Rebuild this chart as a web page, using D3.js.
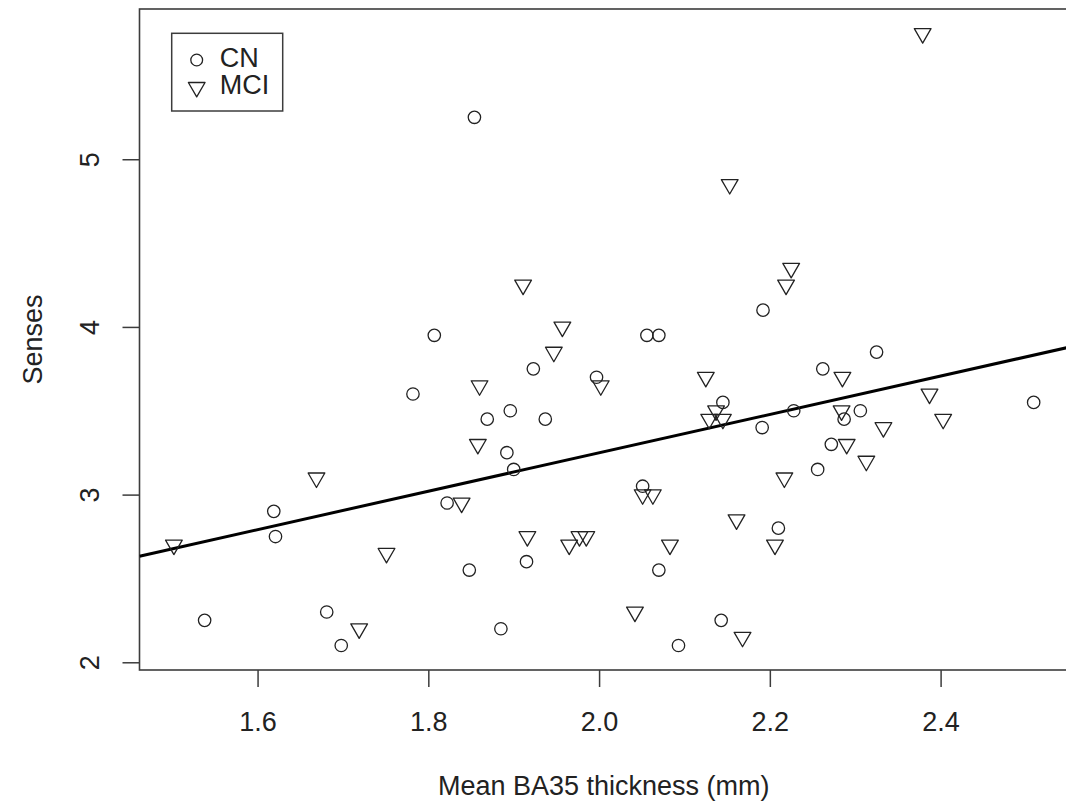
<!DOCTYPE html>
<html>
<head>
<meta charset="utf-8">
<script src="https://cdn.jsdelivr.net/npm/d3@7"></script>
<style>
  html, body { margin: 0; padding: 0; background: #fff; }
  svg { display: block; font-family: "Liberation Sans", Arial, sans-serif; }
</style>
</head>
<body>
<svg id="chart" width="1066" height="805"></svg>
<script>
// values
const cnThickness = [1.538, 1.619, 1.621, 1.681, 1.698, 1.782, 1.807, 1.822, 1.848, 1.854,
  1.869, 1.885, 1.892, 1.896, 1.900, 1.915, 1.923, 1.937, 1.997, 2.051,
  2.056, 2.070, 2.070, 2.093, 2.143, 2.145, 2.191, 2.192, 2.210, 2.228,
  2.256, 2.262, 2.272, 2.287, 2.306, 2.325, 2.509];
const cnSenses = [2.25, 2.90, 2.75, 2.30, 2.10, 3.60, 3.95, 2.95, 2.55, 5.25,
  3.45, 2.20, 3.25, 3.50, 3.15, 2.60, 3.75, 3.45, 3.70, 3.05,
  3.95, 3.95, 2.55, 2.10, 2.25, 3.55, 3.40, 4.10, 2.80, 3.50,
  3.15, 3.75, 3.30, 3.45, 3.50, 3.85, 3.55];
const mciThickness = [1.502, 1.669, 1.719, 1.751, 1.839, 1.858, 1.860, 1.911, 1.916, 1.947,
  1.957, 1.965, 1.977, 1.985, 2.002, 2.042, 2.051, 2.063, 2.083, 2.125,
  2.129, 2.137, 2.145, 2.153, 2.161, 2.168, 2.206, 2.217, 2.219, 2.225,
  2.284, 2.285, 2.290, 2.313, 2.333, 2.379, 2.387, 2.403];
const mciSenses = [2.70, 3.10, 2.20, 2.65, 2.95, 3.30, 3.65, 4.25, 2.75, 3.85,
  4.00, 2.70, 2.75, 2.75, 3.65, 2.30, 3.00, 3.00, 2.70, 3.70,
  3.45, 3.50, 3.45, 4.85, 2.85, 2.15, 2.70, 3.10, 4.25, 4.35,
  3.50, 3.70, 3.30, 3.20, 3.40, 5.75, 3.60, 3.45];
const groups = ['CN', 'MCI'];
const xTicks = [1.6, 1.8, 2.0, 2.2, 2.4];
const yTicks = [2, 3, 4, 5];
const fitIntercept = 0.959;
const fitSlope = 1.145;

const svg = d3.select('#chart');
const plotLeft = 139.5, plotTop = 9, plotBottom = 670;
const ink = '#222';

// R style limits: data range padded by 4% on each side
const pad = ext => { const r = ext[1] - ext[0]; return [ext[0] - 0.04 * r, ext[1] + 0.04 * r]; };
const xDom = pad(d3.extent(cnThickness.concat(mciThickness)));
const yDom = pad(d3.extent(cnSenses.concat(mciSenses)));
const pxPerMm = 853.8;

const x = d3.scaleLinear().domain(xDom).range([plotLeft, plotLeft + (xDom[1] - xDom[0]) * pxPerMm]);
const y = d3.scaleLinear().domain(yDom).range([plotBottom, plotTop]);
const plotRight = x.range()[1];

svg.append('clipPath').attr('id', 'plotClip')
  .append('rect').attr('x', plotLeft).attr('y', plotTop)
  .attr('width', plotRight - plotLeft).attr('height', plotBottom - plotTop);

// axes
const xAxis = svg.append('g')
  .attr('transform', `translate(0,${plotBottom})`)
  .call(d3.axisBottom(x).tickValues(xTicks).tickSize(17).tickFormat(d3.format('.1f')));
xAxis.select('.domain').remove();
xAxis.selectAll('line').attr('stroke', '#3c3c3c').attr('stroke-width', 1.5);
xAxis.selectAll('text')
  .attr('y', 61).attr('dy', null)
  .attr('fill', ink).style('font-size', '27px');

const yAxis = svg.append('g')
  .attr('transform', `translate(${plotLeft},0)`)
  .call(d3.axisLeft(y).tickValues(yTicks).tickSize(17).tickFormat(d3.format('d')));
yAxis.select('.domain').remove();
yAxis.selectAll('line').attr('stroke', '#3c3c3c').attr('stroke-width', 1.5);
yAxis.selectAll('text')
  .attr('x', null).attr('dy', null)
  .attr('text-anchor', 'middle')
  .attr('transform', 'translate(-40.5,0) rotate(-90)')
  .attr('fill', ink).style('font-size', '27px');

// frame
svg.append('rect')
  .attr('x', plotLeft).attr('y', plotTop)
  .attr('width', plotRight - plotLeft).attr('height', plotBottom - plotTop)
  .attr('fill', 'none').attr('stroke', '#3c3c3c').attr('stroke-width', 1.6);

// axis titles
svg.append('text')
  .attr('x', (plotLeft + plotRight) / 2).attr('y', 795)
  .attr('text-anchor', 'middle').attr('fill', ink).style('font-size', '27px')
  .text('Mean BA35 thickness (mm)');
svg.append('text')
  .attr('transform', `translate(42,${(plotTop + plotBottom) / 2}) rotate(-90)`)
  .attr('text-anchor', 'middle').attr('fill', ink).style('font-size', '27px')
  .text('Senses');

// marker shapes (R pch 1 and pch 6)
const r0 = 6.2;
const triDown = `M${-1.347 * r0},${-0.778 * r0}L${1.347 * r0},${-0.778 * r0}L0,${1.555 * r0}Z`;

const plot = svg.append('g').attr('clip-path', 'url(#plotClip)');

plot.append('line')
  .attr('x1', x(xDom[0])).attr('y1', y(fitIntercept + fitSlope * xDom[0]))
  .attr('x2', x(xDom[1])).attr('y2', y(fitIntercept + fitSlope * xDom[1]))
  .attr('stroke', '#000').attr('stroke-width', 3);

plot.append('g').selectAll('circle')
  .data(d3.zip(cnThickness, cnSenses))
  .join('circle')
    .attr('cx', d => x(d[0]))
    .attr('cy', d => y(d[1]))
    .attr('r', r0)
    .attr('fill', 'none').attr('stroke', ink).attr('stroke-width', 1.3);

plot.append('g').selectAll('path')
  .data(d3.zip(mciThickness, mciSenses))
  .join('path')
    .attr('d', triDown)
    .attr('transform', d => `translate(${x(d[0])},${y(d[1])})`)
    .attr('fill', 'none').attr('stroke', ink).attr('stroke-width', 1.3)
    .attr('stroke-linejoin', 'round');

// legend
const lg = svg.append('g').attr('transform', `translate(${plotLeft + 32.2},${plotTop + 24.3})`);
lg.append('rect')
  .attr('width', 111).attr('height', 77.7)
  .attr('fill', '#fff').attr('stroke', '#3c3c3c').attr('stroke-width', 1.5);
groups.forEach((g, i) => {
  const cy = 26.7 + i * 27.3;
  if (i === 0) {
    lg.append('circle').attr('cx', 25).attr('cy', cy).attr('r', r0 * 0.95)
      .attr('fill', 'none').attr('stroke', ink).attr('stroke-width', 1.3);
  } else {
    lg.append('path').attr('d', triDown).attr('transform', `translate(25,${cy})`)
      .attr('fill', 'none').attr('stroke', ink).attr('stroke-width', 1.3)
      .attr('stroke-linejoin', 'round');
  }
  lg.append('text')
    .attr('x', 48).attr('y', cy + 7)
    .attr('fill', ink).style('font-size', '27px')
    .text(g);
});
</script>
</body>
</html>
